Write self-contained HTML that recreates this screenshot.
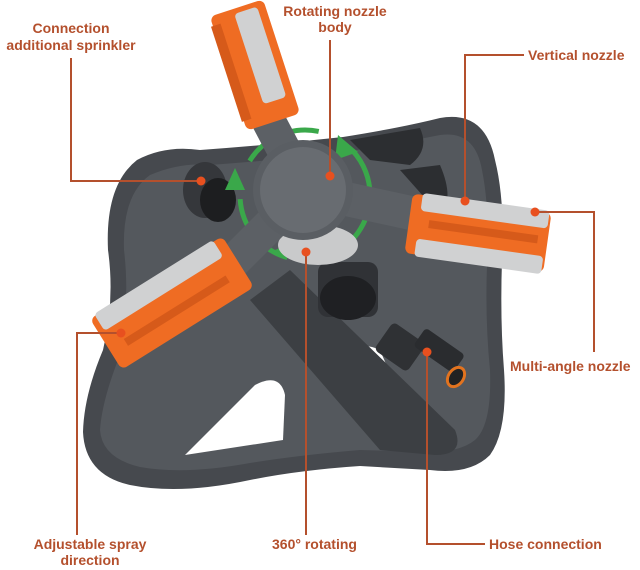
<!DOCTYPE html>
<html><head><meta charset="utf-8"><style>
html,body{margin:0;padding:0;background:#fff}
svg{display:block}
text{font-family:"Liberation Sans",sans-serif;font-weight:bold;font-size:14px;fill:#b4502d}
</style></head><body>
<svg width="640" height="570" viewBox="0 0 640 570" xmlns="http://www.w3.org/2000/svg">
<!-- base -->
<path d="M137,160 Q165,145 200,150 Q270,145 343,137 Q400,128 440,118 Q485,110 495,160 Q505,200 502,260 Q500,320 504,370 Q508,430 490,455 Q470,475 430,470 L360,466 Q300,470 250,480 Q180,495 130,485 Q85,475 83,432 Q84,395 103,350 Q115,300 108,250 Q105,185 137,160 Z" fill="#46494e"/>
<path d="M150,175 Q180,162 210,165 Q280,160 345,152 Q400,143 440,135 Q475,130 482,170 Q490,210 487,265 Q485,320 490,370 Q492,425 475,440 Q460,452 430,452 L360,450 Q300,455 250,463 Q185,475 140,467 Q102,458 100,430 Q102,400 120,355 Q130,300 124,250 Q122,195 150,175 Z" fill="#54585d"/>
<path d="M185,455 L255,385 Q280,372 285,395 L283,440 Z" fill="#fff"/>
<path d="M340,355 Q360,340 380,350 L395,385 L350,380 Z" fill="#fff"/>
<path d="M350,140 L420,128 Q430,150 410,165 L370,160 Z" fill="#2c2e31"/>
<path d="M400,170 L440,165 Q455,200 440,215 Z" fill="#2c2e31"/>
<path d="M290,270 L455,430 Q465,455 435,455 L380,450 L250,300 Z" fill="#3c3f43"/>
<!-- hose connector -->
<rect x="380" y="330" width="40" height="34" rx="5" fill="#2f3134" transform="rotate(35 400 347)"/>
<rect x="415" y="340" width="48" height="22" rx="4" fill="#2a2c2f" transform="rotate(35 440 351)"/>
<ellipse cx="456" cy="377" rx="9" ry="12" fill="#e2731f" transform="rotate(35 456 377)"/>
<ellipse cx="456" cy="377" rx="6" ry="9" fill="#222" transform="rotate(35 456 377)"/>
<!-- lower connector -->
<rect x="318" y="262" width="60" height="55" rx="10" fill="#303236"/>
<ellipse cx="348" cy="298" rx="28" ry="22" fill="#1f2023"/>
<!-- left connector -->
<ellipse cx="205" cy="190" rx="22" ry="28" fill="#35373b"/>
<ellipse cx="218" cy="200" rx="18" ry="22" fill="#1d1e20"/>
<!-- green arrows -->
<circle cx="305" cy="195" r="65" fill="none" stroke="#3aa84a" stroke-width="5" stroke-dasharray="80 40"/>
<polygon points="338,135 358,152 335,160" fill="#3aa84a"/>
<polygon points="225,190 235,168 245,190" fill="#3aa84a"/>
<polygon points="275,250 300,240 298,262" fill="#3aa84a"/>
<!-- hub ring -->
<ellipse cx="318" cy="245" rx="40" ry="20" fill="#c9cacb"/>
<!-- arms -->
<line x1="305" y1="190" x2="255" y2="95" stroke="#5c6065" stroke-width="34"/>
<line x1="305" y1="190" x2="420" y2="215" stroke="#5c6065" stroke-width="34"/>
<line x1="305" y1="190" x2="230" y2="265" stroke="#5c6065" stroke-width="34"/>
<circle cx="303" cy="190" r="50" fill="#5a5e63"/>
<circle cx="303" cy="190" r="43" fill="#686c71"/>
<!-- top nozzle -->
<g transform="translate(255,65) rotate(-18)">
<rect x="-28" y="-60" width="56" height="120" rx="6" fill="#ef6c23"/>
<rect x="-4" y="-55" width="24" height="95" rx="4" fill="#d0d1d2"/>
<rect x="-30" y="-50" width="10" height="100" fill="#d65a1a"/>
</g>
<!-- right nozzle -->
<g transform="translate(478,233) rotate(8)">
<rect x="-70" y="-30" width="140" height="60" rx="6" fill="#ef6c23"/>
<rect x="-60" y="-32" width="128" height="18" rx="4" fill="#d0d1d2"/>
<rect x="-60" y="14" width="128" height="18" rx="4" fill="#d0d1d2"/>
<rect x="-50" y="-6" width="110" height="8" fill="#d65a1a"/>
</g>
<!-- left nozzle -->
<g transform="translate(172,303) rotate(-32)">
<rect x="-78" y="-30" width="156" height="60" rx="6" fill="#ef6c23"/>
<rect x="-72" y="-32" width="140" height="20" rx="4" fill="#d0d1d2"/>
<rect x="-60" y="5" width="120" height="8" fill="#d65a1a"/>
</g>
<!-- leader lines -->
<g stroke="#b4502d" stroke-width="2" fill="none">
<polyline points="71,58 71,181 201,181"/>
<polyline points="330,40 330,176"/>
<polyline points="524,55 465,55 465,201"/>
<polyline points="535,212 594,212 594,352"/>
<polyline points="121,333 77,333 77,535"/>
<polyline points="306,252 306,535"/>
<polyline points="427,352 427,544 485,544"/>
</g>
<g fill="#e8501f">
<circle cx="201" cy="181" r="4.5"/><circle cx="330" cy="176" r="4.5"/>
<circle cx="465" cy="201" r="4.5"/><circle cx="535" cy="212" r="4.5"/>
<circle cx="121" cy="333" r="4.5"/><circle cx="306" cy="252" r="4.5"/>
<circle cx="427" cy="352" r="4.5"/>
</g>
<!-- labels -->
<text x="71" y="33" text-anchor="middle">Connection</text>
<text x="71" y="50" text-anchor="middle">additional sprinkler</text>
<text x="335" y="16" text-anchor="middle">Rotating nozzle</text>
<text x="335" y="32" text-anchor="middle">body</text>
<text x="528" y="60">Vertical nozzle</text>
<text x="510" y="371">Multi-angle nozzle</text>
<text x="90" y="549" text-anchor="middle">Adjustable spray</text>
<text x="90" y="565" text-anchor="middle">direction</text>
<text x="272" y="549">360° rotating</text>
<text x="489" y="549">Hose connection</text>
</svg>
</body></html>
